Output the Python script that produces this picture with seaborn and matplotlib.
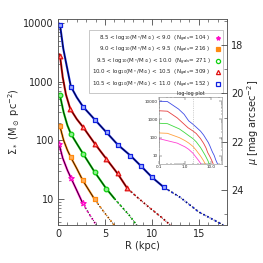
import numpy as np
import pandas as pd
import matplotlib
matplotlib.use('Agg')
import matplotlib.pyplot as plt
from matplotlib.lines import Line2D
from matplotlib.ticker import LogLocator, NullFormatter, FixedLocator, MultipleLocator
import seaborn as sns

sns.set_style('ticks')
plt.rcParams['font.family'] = ['DejaVu Sans']
plt.rcParams['mathtext.fontset'] = 'dejavusans'

# mass bins
bins = ['8.5-9.0', '9.0-9.5', '9.5-10.0', '10.0-10.5', '10.5-11.0']
colors = ['#ff10c8', '#ff8a10', '#10d010', '#e01010', '#1020e0']
light = ['#ff9ae8', '#ffb060', '#90f090', '#ff9a9a', '#a0b0ff']
mkrs = ['*', 's', 'o', '^', 's']
ngals = [104, 216, 271, 309, 152]
lo = ['8.5', '9.0', '9.5', '10.0', '10.5']
hi = ['9.0', '9.5', '10.0', '10.5', '11.0']

# profile curves (solid part), R in kpc, Sigma in Msun/pc^2
mag_R = [0.1, 0.5, 1.0, 1.37, 2.0, 2.64]
mag_S = [88, 50, 31, 23, 14, 8.4]
ora_R = [0.1, 0.21, 0.6, 1.0, 1.37, 2.0, 2.64, 3.91]
ora_S = [180, 172, 100, 68, 51, 33, 20.7, 9.8]
gre_R = [0.1, 0.21, 0.6, 1.0, 1.37, 2.0, 2.67, 3.91, 5.14, 6.0]
gre_S = [610, 581, 300, 180, 129, 88, 59, 28.7, 15.0, 10.2]
red_R = [0.1, 0.21, 0.5, 0.85, 1.30, 2.0, 2.67, 3.91, 5.14, 6.34, 7.39]
red_S = [2950, 2790, 1200, 600, 345, 230, 168, 88, 48.5, 27.2, 15.1]
blu_R = [0.1, 0.21, 0.56, 0.92, 1.37, 2.0, 2.67, 3.91, 5.17, 6.37, 7.71, 8.87, 10.03, 11.30]
blu_S = [9800, 9420, 3670, 1880, 826, 540, 373, 226, 136, 84, 55, 36, 23.3, 15.7]

# outer (dotted) part
mag_tR = [2.64, 3.3, 4.1]
mag_tS = [8.4, 5.6, 3.55]
ora_tR = [3.91, 5.0, 6.0]
ora_tS = [9.8, 5.7, 3.55]
gre_tR = [6.0, 7.6, 8.4]
gre_tS = [10.2, 5.25, 3.55]
red_tR = [7.39, 8.5, 9.7, 11.0, 12.0]
red_tS = [15.1, 10.5, 7.2, 4.9, 3.55]
blu_tR = [11.30, 13.0, 15.0, 17.6]
blu_tS = [15.7, 10.7, 6.0, 3.6]

# binned points
mag_pR = [0.1, 1.37, 2.64]
mag_pS = [88, 23, 8.4]
ora_pR = [0.21, 1.37, 2.64, 3.91]
ora_pS = [172, 51, 20.7, 9.8]
gre_pR = [0.21, 1.37, 2.67, 3.91, 5.14]
gre_pS = [581, 129, 59, 28.7, 15.0]
red_pR = [0.21, 1.30, 2.67, 3.91, 5.14, 6.34, 7.39]
red_pS = [2790, 345, 168, 88, 48.5, 27.2, 15.1]
blu_pR = [0.21, 1.37, 2.67, 3.91, 5.17, 6.37, 7.71, 8.87, 10.03, 11.30]
blu_pS = [9420, 826, 373, 226, 136, 84, 55, 36, 23.3, 15.7]

curves = [(mag_R, mag_S), (ora_R, ora_S), (gre_R, gre_S), (red_R, red_S), (blu_R, blu_S)]
tails = [(mag_tR, mag_tS), (ora_tR, ora_tS), (gre_tR, gre_tS), (red_tR, red_tS), (blu_tR, blu_tS)]
points = [(mag_pR, mag_pS), (ora_pR, ora_pS), (gre_pR, gre_pS), (red_pR, red_pS), (blu_pR, blu_pS)]

fig = plt.figure(figsize=(2.63, 2.63), dpi=100)
ax = fig.add_axes([58/263, 1-225/263, 169/263, 206/263])

for i in range(5):
    c = pd.DataFrame({'R': curves[i][0], 'S': curves[i][1]})
    t = pd.DataFrame({'R': tails[i][0], 'S': tails[i][1]})
    p = pd.DataFrame({'R': points[i][0], 'S': points[i][1]})
    sns.lineplot(data=c, x='R', y='S', color=colors[i], lw=1.5, sort=False,
                 estimator=None, ax=ax, zorder=2)
    sns.lineplot(data=c, x='R', y='S', color='black', lw=0.5, sort=False,
                 estimator=None, ax=ax, zorder=3)
    sns.lineplot(data=t, x='R', y='S', color=colors[i], lw=1.3, sort=False,
                 estimator=None, ax=ax, zorder=2, dashes=False,
                 linestyle=(0, (1.0, 1.4)))
    sns.lineplot(data=t, x='R', y='S', color='black', lw=0.7, sort=False,
                 estimator=None, ax=ax, zorder=2, dashes=False,
                 linestyle=(1.2, (0.8, 1.6)))
    sns.scatterplot(data=p, x='R', y='S', marker=mkrs[i], s=16 if mkrs[i] == '*' else 11,
                    facecolor=light[i], edgecolor=colors[i], linewidth=0.9,
                    ax=ax, zorder=4)

ax.set_yscale('log')
ax.set_xlim(0, 18)
ax.set_ylim(3.6, 11700)
ax.yaxis.set_major_locator(FixedLocator([10, 100, 1000, 10000]))
ax.set_yticklabels(['10', '100', '1000', '10000'])
ax.yaxis.set_minor_locator(LogLocator(base=10, subs=np.arange(2, 10)))
ax.yaxis.set_minor_formatter(NullFormatter())
ax.xaxis.set_major_locator(FixedLocator([0, 5, 10, 15]))
ax.xaxis.set_minor_locator(MultipleLocator(1))
ax.tick_params(which='both', direction='in', top=True, labelsize=7, pad=3)
ax.tick_params(which='major', length=4, width=0.5)
ax.tick_params(which='minor', length=2, width=0.4)
ax.tick_params(axis='y', which='both', right=False)
for s in ax.spines.values():
    s.set_linewidth(0.5)
    s.set_color('#555555')
ax.set_xlabel('R (kpc)', fontsize=7, labelpad=1)
ax.set_ylabel(r'$\Sigma_*$ (M$_\odot$ pc$^{-2}$)', fontsize=7, labelpad=1)

ax2 = ax.twinx()
ax2.set_ylim(25.44, 16.93)
ax2.yaxis.set_major_locator(FixedLocator([18, 20, 22, 24]))
ax2.yaxis.set_minor_locator(MultipleLocator(1))
ax2.tick_params(which='both', direction='in', labelsize=7, pad=3)
ax2.tick_params(which='major', length=4, width=0.5)
ax2.tick_params(which='minor', length=2, width=0.4)
for s in ax2.spines.values():
    s.set_linewidth(0.5)
    s.set_color('#555555')
ax2.set_ylabel(r'$\mu$ [mag arcsec$^{-2}$]', fontsize=7, labelpad=1)

handles = []
labels = []
for i in range(5):
    face = colors[i] if i < 2 else 'white'
    handles.append(Line2D([], [], ls='none', marker=mkrs[i], markersize=3.0,
                          markerfacecolor=face, markeredgecolor=colors[i],
                          markeredgewidth=0.9))
    labels.append(lo[i] + r' < log$_{10}$(M$_*$/M$_\odot$) < ' + hi[i] +
                  r'  (N$_{gals}$= ' + str(ngals[i]) + ' )')
leg = ax.legend(handles, labels, loc='upper right', bbox_to_anchor=(0.995, 0.96),
                markerfirst=False, fontsize=4.0, frameon=True, fancybox=False,
                handlelength=0.8, handletextpad=0.9, borderpad=0.6,
                labelspacing=0.25)
leg.get_frame().set_edgecolor('#888888')
leg.get_frame().set_linewidth(0.4)
leg.set_zorder(10)

# inset log-log plot
axi = fig.add_axes([159/263, 1-164/263, 63/263, 67/263])
for i in range(5):
    d = pd.DataFrame({'R': list(curves[i][0]) + list(tails[i][0][1:]),
                      'S': list(curves[i][1]) + list(tails[i][1][1:])})
    sns.lineplot(data=d, x='R', y='S', color=colors[i], lw=0.6, alpha=0.8,
                 sort=False, estimator=None, ax=axi)
axi.set_xscale('log')
axi.set_yscale('log')
axi.set_xlim(0.1, 26)
axi.set_ylim(3.6, 16700)
axi.axvline(2.0, color='#aaaaaa', lw=0.4, ls=(0, (2, 2)))
axi.xaxis.set_major_locator(FixedLocator([0.1, 1.0, 10.0]))
axi.set_xticklabels(['0.1', '1.0', '10.0'])
axi.yaxis.set_major_locator(FixedLocator([10, 100, 1000, 10000]))
axi.set_yticklabels(['10', '100', '1000', '10000'])
axi.xaxis.set_minor_formatter(NullFormatter())
axi.yaxis.set_minor_formatter(NullFormatter())
axi.tick_params(which='both', direction='in', labelsize=3, pad=1, top=True, right=True)
axi.tick_params(which='major', length=2, width=0.3)
axi.tick_params(which='minor', length=1, width=0.3)
for s in axi.spines.values():
    s.set_linewidth(0.4)
    s.set_color('#888888')
axi.set_xlabel('')
axi.set_ylabel('')
axi.set_title('log-log plot', fontsize=3.5, pad=1.5)

fig.savefig('out.png', dpi=100)
